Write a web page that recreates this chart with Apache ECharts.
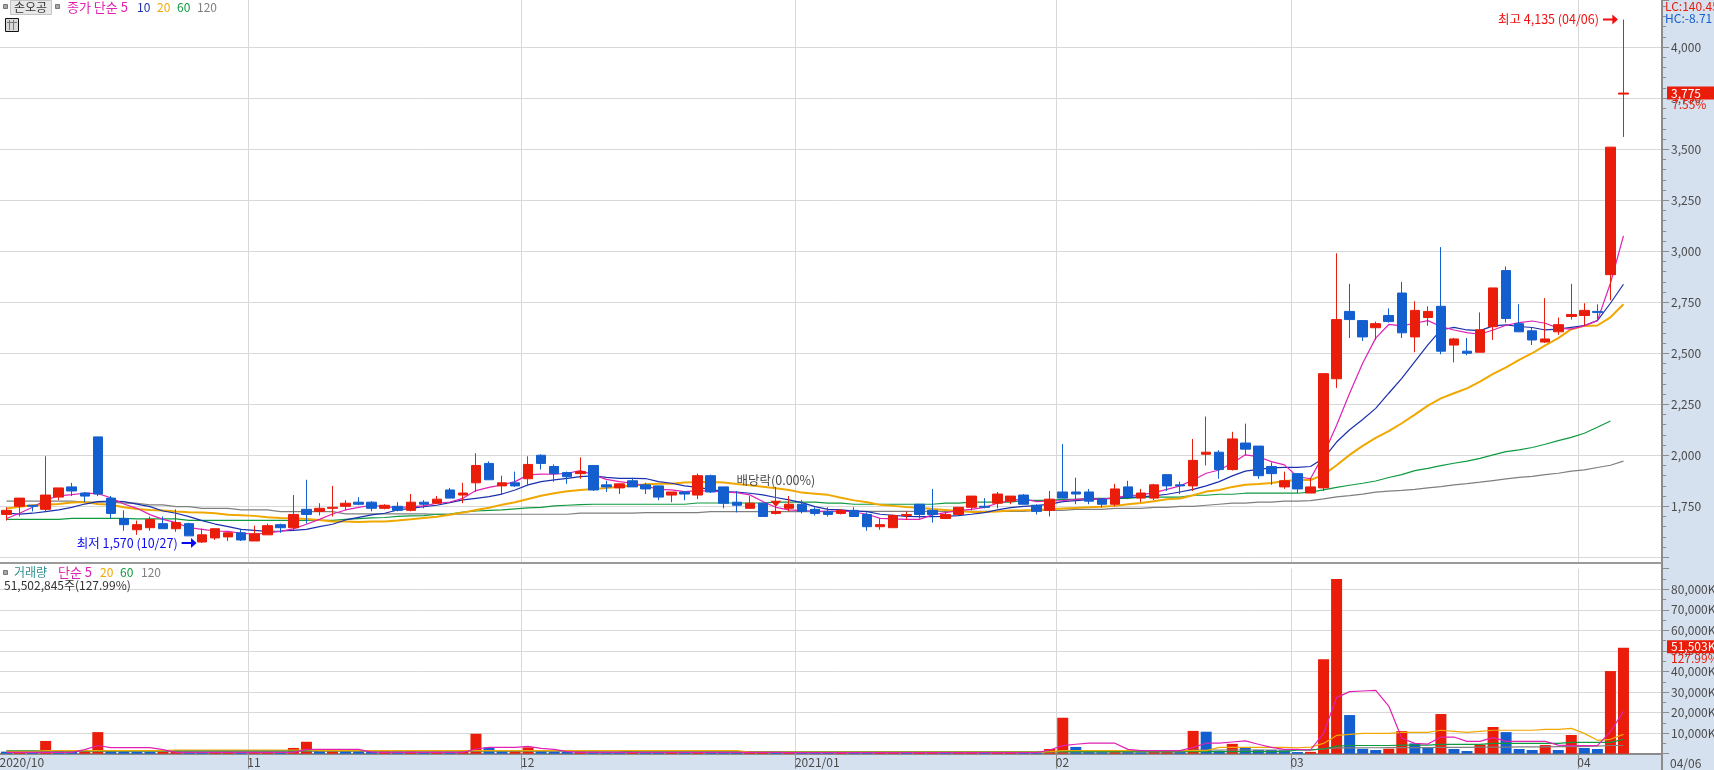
<!DOCTYPE html>
<html>
<head>
<meta charset="utf-8">
<title>손오공 일봉</title>
<script src="https://cdn.jsdelivr.net/npm/echarts@6/dist/echarts.min.js"></script>
<style>
  html, body { margin: 0; padding: 0; background: #fff; }
  #chart { width: 1714px; height: 770px; }
</style>
</head>
<body>
<div id="chart"></div>
<script>
// [open, close, low, high]
const candles = [
  [1710,1730,1680,1745],[1750,1790,1700,1790],[1755,1750,1725,1755],[1735,1805,1725,1995],[1795,1840,1780,1840],
  [1845,1825,1800,1865],[1815,1800,1770,1820],[2090,1810,1800,2090],[1790,1715,1690,1800],[1690,1660,1630,1730],
  [1635,1660,1610,1680],[1645,1685,1630,1700],[1665,1640,1640,1700],[1640,1670,1625,1735],[1665,1605,1605,1670],
  [1575,1610,1570,1640],[1595,1640,1585,1640],[1600,1620,1580,1625],[1620,1585,1580,1635],[1580,1615,1580,1655],
  [1610,1655,1610,1665],[1660,1645,1620,1665],[1645,1710,1635,1805],[1735,1710,1665,1880],[1725,1740,1705,1765],
  [1740,1745,1700,1850],[1750,1765,1730,1780],[1770,1760,1755,1795],[1770,1740,1725,1775],[1740,1755,1735,1760],
  [1750,1730,1725,1770],[1730,1770,1725,1810],[1770,1760,1740,1780],[1765,1785,1760,1800],[1830,1790,1790,1840],
  [1805,1815,1765,1865],[1865,1950,1820,2010],[1960,1880,1880,1970],[1850,1865,1810,1900],[1865,1850,1845,1920],
  [1885,1955,1855,1995],[2000,1960,1930,2005],[1945,1910,1870,1955],[1915,1895,1860,1920],[1910,1920,1885,1990],
  [1950,1830,1825,1950],[1855,1845,1820,1875],[1840,1860,1810,1860],[1875,1845,1845,1890],[1855,1835,1810,1865],
  [1850,1795,1780,1850],[1805,1820,1770,1820],[1820,1810,1780,1825],[1805,1900,1785,1910],[1900,1820,1815,1905],
  [1845,1765,1740,1845],[1770,1755,1720,1825],[1740,1765,1740,1800],[1765,1700,1700,1765],[1715,1725,1710,1845],
  [1740,1760,1725,1800],[1760,1725,1715,1780],[1735,1715,1705,1745],[1725,1710,1700,1745],[1715,1730,1710,1735],
  [1730,1700,1700,1745],[1710,1650,1630,1720],[1650,1660,1635,1690],[1645,1705,1645,1710],[1705,1710,1685,1725],
  [1760,1710,1690,1760],[1730,1710,1670,1835],[1690,1710,1690,1725],[1710,1745,1710,1745],[1745,1800,1730,1800],
  [1750,1745,1740,1790],[1765,1810,1740,1820],[1775,1800,1760,1800],[1805,1760,1760,1810],[1755,1725,1710,1760],
  [1730,1785,1700,1825],[1820,1790,1790,2055],[1820,1810,1760,1890],[1820,1775,1760,1835],[1785,1760,1745,1790],
  [1760,1835,1750,1860],[1845,1795,1785,1875],[1790,1815,1770,1835],[1790,1855,1780,1860],[1905,1850,1825,1905],
  [1855,1850,1810,1870],[1850,1975,1825,2080],[2005,2015,1950,2190],[2015,1930,1885,2025],[1930,2080,1925,2115],
  [2060,2030,2000,2155],[2045,1900,1885,2045],[1945,1910,1855,1965],[1845,1875,1835,1920],[1910,1835,1815,1910],
  [1815,1845,1815,1890],[1840,2400,1825,2400],[2375,2665,2330,2990],[2705,2665,2575,2840],[2660,2580,2560,2660],
  [2625,2645,2565,2655],[2685,2655,2650,2720],[2795,2600,2575,2850],[2580,2710,2505,2755],[2675,2705,2635,2730],
  [2730,2510,2495,3020],[2540,2570,2455,2575],[2510,2500,2490,2575],[2505,2615,2505,2700],[2630,2820,2565,2820],
  [2905,2670,2650,2925],[2645,2605,2605,2740],[2610,2565,2540,2625],[2555,2570,2550,2770],[2605,2640,2590,2675],
  [2680,2690,2665,2840],[2685,2710,2635,2745],[2705,2700,2665,2740],[2885,3510,2760,3510],[3770,3775,3560,4135]
];

const ma5 = [
  1690,1716,1745,1781,1801,1807,1814,1812,1792,1761,1740,1709,1686,1670,1645,1637,1629,1627,1618,1613,
  1619,1627,1639,1662,1686,1712,1732,1745,1755,1748,1743,1748,1752,
  1765,1771,1789,1827,1843,1855,1871,1904,1908,1907,1912,1925,1904,1882,1871,1863,1850,1833,1830,1822,1827,1825,1819,1817,1806,1773,1745,1732,1729,1727,1725,1727,1722,
  1711,1691,1688,1686,1686,1708,1719,1729,1735,1745,1765,1778,1786,1773,1776,1778,1784,1788,1784,1794,1801,1806,1817,1833,1850,1879,1912,1928,1961,2002,1993,1969,1953,
  1895,1885,2003,2147,2304,2451,2574,2641,2634,2647,2660,2631,2614,2601,2593,2614,2637,2650,2658,2647,2623,2618,2634,2660,2843,3075
];
const ma10 = [
  1716,1712,1716,1724,1732,1745,1761,1773,1776,1773,1761,1748,1727,1716,1699,1680,1663,1650,1637,1632,
  1627,1629,1632,1637,1650,1662,1683,1696,1708,1716,1732,1740,1748,
  1755,1768,1781,1789,1797,1810,1830,1855,1871,1879,1887,1895,1899,1892,1887,1887,1886,1871,1863,1850,1843,1833,1822,1819,1814,1806,1793,1781,1768,1748,1735,1732,1727,
  1724,1711,1706,1701,1699,1699,1701,1704,1711,1719,1732,1743,1750,1753,1761,1773,1778,1783,1786,1789,1794,1796,1801,1809,1820,1833,1850,1871,1899,1922,1931,1938,1941,
  1941,1945,1985,2065,2125,2175,2230,2304,2377,2459,2541,2614,2627,2614,2611,2634,2639,2631,2626,2614,2618,2627,2636,2660,2745,2838
];
const ma20 = [
  1739,1748,1755,1758,1761,1768,1771,1761,1757,1745,1737,1732,1729,1724,1721,1719,1716,1709,1706,1703,
  1696,1693,1691,1688,1683,1676,1675,1673,1675,1676,1680,1686,1693,
  1699,1709,1719,1732,1743,1758,1770,1786,1802,1814,1824,1830,1835,1840,1846,1851,1858,1861,1861,1866,1869,1869,1866,1859,1853,1846,1838,1830,1817,1812,1806,1792,1779,
  1770,1757,1752,1747,1743,1737,1732,1727,1722,1722,1724,1729,1730,1732,1735,1739,1742,1745,1748,1752,1760,1766,1775,1784,1788,1804,1822,1830,1845,1855,1859,1864,1874,
  1879,1879,1904,1951,2002,2046,2085,2118,2157,2199,2243,2279,2304,2328,2361,2399,2431,2467,2500,2538,2574,2618,2634,2636,2676,2740
];
const ma60 = [
  1686,1686,1686,1686,1686,1691,1691,1691,1691,1691,1688,1688,1688,1688,1681,1681,1681,1681,1681,1681,
  1681,1681,1681,1681,1681,1681,1686,1690,1693,1695,1701,1703,1704,
  1711,1712,1721,1727,1730,1732,1737,1742,1745,1752,1755,1758,1760,1760,1760,1760,1760,1760,1760,1760,1766,1766,1766,1766,1766,1766,1770,1770,1770,1770,1765,1765,
  1760,1760,1760,1760,1760,1760,1760,1765,1765,1770,1770,1770,1770,1779,1779,1779,1784,1784,1789,1789,1789,1789,1795,1795,1795,1795,1804,1804,1809,1809,1814,1814,1814,
  1814,1814,1819,1830,1843,1853,1863,1874,1891,1905,1925,1936,1949,1961,1971,1985,2002,2018,2026,2038,2054,2072,2088,2108,2137,2168
];
const ma120 = [
  1775,1775,1775,1775,1775,1775,1770,1770,1770,1765,1765,1757,1757,1748,1748,1740,1740,1740,1732,1732,
  1732,1724,1724,1724,1724,1724,1713,1713,1713,1713,1713,1713,1713,
  1711,1711,1711,1711,1711,1711,1711,1711,1711,1711,1711,1716,1716,1716,1716,1716,1719,1719,1719,1719,1719,1724,1724,1724,1724,1724,1724,1724,1724,1724,1724,1724,1727,
  1725,1725,1725,1725,1725,1725,1725,1725,1725,1725,1725,1725,1725,1730,1730,1730,1735,1735,1735,1740,1740,1740,1745,1745,1750,1750,1755,1760,1765,1765,1770,1770,1775,
  1775,1778,1786,1796,1802,1810,1819,1824,1828,1833,1840,1846,1855,1861,1868,1876,1884,1892,1897,1905,1912,1922,1928,1940,1951,1971
];

// 거래량, 단위는 천주(K)
const volumes = [
  1000,1200,900,6200,1500,1100,1300,10500,1300,1200,
  1000,900,1000,1200,1000,900,1000,1100,900,1000,
  1100,1000,2800,5800,1600,1800,1500,1300,1200,1300,
  1100,1200,1000,1100,1000,1200,9700,3000,1300,1400,
  3100,1500,1100,1000,1200,1100,1000,900,1000,700,
  600,700,600,800,700,600,500,600,700,500,
  600,500,450,400,450,400,350,400,500,450,
  500,550,500,550,600,500,550,600,500,450,
  2300,17500,3300,1000,800,900,800,700,900,1000,
  800,11100,10700,1500,4800,2800,1900,1800,1700,800,
  900,46000,85000,18800,2400,1800,2400,11000,5000,3200,
  19300,2300,1300,4400,13000,10500,2300,1800,4200,1800,
  9100,2800,2300,40200,51503
];
const volMa5 = [
  650,650,650,650,650,650,2000,4000,3000,3000,
  3000,3000,2000,650,650,650,650,650,650,650,
  650,650,650,2100,2100,2100,2100,2100,800,650,
  650,650,650,650,650,650,2300,3100,3100,3100,
  3600,2600,2100,1000,650,650,650,650,650,650,
  600,600,600,600,600,600,600,600,600,600,
  550,550,550,550,550,550,550,550,550,550,
  550,550,550,550,550,550,550,550,550,550,
  1800,3900,4600,5100,5100,5100,2100,1500,1500,1500,
  1500,3100,5100,5100,5700,6200,4600,3100,2100,2100,
  1800,9900,27300,30200,30500,30800,23200,7500,5000,4700,
  8100,8100,6000,6000,7800,6000,6000,6000,6000,4200,
  3900,3900,3900,10700,20600
];
const volMa20 = [
  1200,1200,1200,1500,1500,1500,1500,1500,1500,1500,
  1500,1500,1500,1800,1800,1800,1800,1800,1800,1800,
  1800,1800,1800,1800,1500,1500,1500,1500,1500,1500,
  1500,1500,1500,1500,1500,1500,1500,1500,1500,1500,
  1500,1500,1500,1500,1500,1500,1500,1500,1500,1500,
  1500,1500,1500,1500,1500,1500,1500,800,800,800,
  800,800,800,800,800,800,800,800,800,800,
  800,800,800,800,800,800,800,800,800,800,
  1000,1500,1500,1500,1500,1500,1500,1500,1500,1500,
  1500,1500,1500,3100,3100,3100,3100,3100,3100,2900,
  3200,5000,8900,9400,9900,9900,9900,10400,10400,10400,
  11400,10900,10400,10900,11400,11400,11400,11400,11800,11800,
  12300,9900,6500,7000,9400
];
const volMa60 = [
  1400,1400,1400,1400,1400,1400,1400,1400,1400,1400,
  1400,1400,1400,1400,1400,1400,1400,1400,1400,1400,
  1400,1400,1400,1500,1500,1500,1500,1500,1500,1500,
  1500,1500,1500,1500,1500,1500,1500,1500,1500,1500,
  1500,1500,1500,1500,1500,1500,1500,1500,900,900,
  900,900,900,900,900,900,900,900,900,900,
  900,900,900,900,900,900,900,900,900,900,
  900,900,900,900,900,900,900,900,900,900,
  1000,1000,1000,1000,1000,1000,1000,1000,1000,1000,
  1000,1000,1000,1000,1000,1000,1000,1000,1000,1800,
  1800,2300,3700,4000,4000,4000,4000,4200,4200,4200,
  4500,4500,4500,4500,5000,5000,5000,5000,5000,5000,
  5500,5500,5500,5500,7000
];
const volMa120 = [
  1300,1300,1300,1300,1300,1300,1300,1300,1300,1300,
  1300,1300,1300,1300,1300,1300,1300,1300,1300,1300,
  1300,1300,1300,1300,1300,1300,1300,1300,1300,1300,
  1300,1300,1300,1300,1300,1300,1300,1300,1300,1300,
  1300,1300,1300,1300,1300,1300,1300,1300,800,800,
  800,800,800,800,800,800,800,800,800,800,
  800,800,800,800,800,800,800,800,800,800,
  800,800,800,800,800,800,800,800,800,800,
  900,900,900,900,900,900,900,900,900,900,
  900,1800,1800,1800,1800,1800,1800,1800,1800,1800,
  1800,2300,2800,2800,2900,2900,3000,3000,3000,3000,
  3100,3100,3100,3200,3200,3200,3300,3300,3300,3400,
  3400,3500,3700,4000,4000
];

// 월 구분: 봉 인덱스 → 축 라벨
const monthIndex = [0, 19, 40, 61, 81, 99, 121];
const monthLabels = ['2020/10', '11', '12', '2021/01', '02', '03', '04'];

const RED = '#ea1c0a';
const BLUE = '#135fcf';
const GRID = '#d8d8d8';
const AXIS = '#8c8c8c';
const TEXT = '#4a4a4a';
const STRIP = '#d6e1ef';
const C_MA5 = '#e021b4';
const C_MA10 = '#1a30ad';
const C_MA20 = '#f0a800';
const C_MA60 = '#0f9a40';
const C_MA120 = '#7f7f7f';
const FONT = '"Noto Sans CJK KR", "Liberation Sans", sans-serif';

// 오른쪽 눈금 띠 아래까지 포함: 밴드 13.04px가 되도록 128칸
const categories = Array.from({ length: 128 }, (_, i) => String(i));
const isMonthLine = (i) => i !== 0 && monthIndex.includes(i);
const comma = (v) => String(v).replace(/\B(?=(\d{3})+(?!\d))/g, ',');

function maLine(name, data, color, width, xi, yi, z) {
  return {
    name, type: 'line', data, xAxisIndex: xi, yAxisIndex: yi, z,
    symbol: 'none', smooth: false, silent: true,
    lineStyle: { color, width },
  };
}

function arrowMark(idx, price, color, text) {
  return {
    coord: [idx, price],
    symbol: 'path://M0,4 H10 V0 L16,5 L10,10 V6 H0 Z',
    symbolSize: [15, 10],
    symbolOffset: [-13, 0],
    itemStyle: { color },
    label: {
      show: true, position: 'left', distance: 4, formatter: text,
      color, fontSize: 12.5, fontFamily: FONT,
    },
  };
}

const chart = echarts.init(document.getElementById('chart'), null, { renderer: 'canvas' });

const option = {
  animation: false,
  backgroundColor: '#fff',
  grid: [
    { left: 0, top: 0, width: 1669.1, height: 557.3, outerBoundsMode: 'none' },
    { left: 0, top: 568.7, width: 1669.1, height: 185, outerBoundsMode: 'none' },
  ],
  xAxis: [
    {
      type: 'category', gridIndex: 0, data: categories, boundaryGap: true,
      axisLine: { show: false },
      axisLabel: { show: false },
      // 1,500 선 아래로 패널 끝까지 세로선 연장
      axisTick: { show: true, length: 6, interval: isMonthLine, lineStyle: { color: GRID, width: 1 } },
      splitLine: { show: true, interval: isMonthLine, lineStyle: { color: GRID, width: 1 } },
    },
    {
      type: 'category', gridIndex: 1, data: categories, boundaryGap: true,
      axisLine: { show: true, lineStyle: { color: AXIS, width: 2 } },
      axisTick: { show: true, length: 15, interval: isMonthLine, lineStyle: { color: AXIS, width: 1 } },
      axisLabel: {
        show: true, interval: (i) => monthIndex.includes(i),
        formatter: (v, i) => monthLabels[monthIndex.indexOf(i)] || '',
        align: 'left', margin: 3, padding: [0, 0, 0, -7],
        color: TEXT, fontSize: 12, fontFamily: FONT,
      },
      splitLine: { show: true, interval: isMonthLine, lineStyle: { color: GRID, width: 1 } },
    },
  ],
  yAxis: [
    {
      type: 'value', gridIndex: 0, position: 'right', min: 1500, max: 4231, interval: 250,
      axisLine: { show: false }, axisTick: { show: false }, axisLabel: { show: false },
      splitLine: { show: true, showMaxLine: false, lineStyle: { color: GRID, width: 1 } },
    },
    {
      type: 'value', gridIndex: 0, position: 'right', offset: -7, min: 1500, max: 4231, interval: 250, z: 5,
      axisLine: { show: false },
      axisTick: { show: true, length: 7, lineStyle: { color: AXIS } },
      minorTick: { show: true, splitNumber: 5, length: 4, lineStyle: { color: AXIS } },
      axisLabel: {
        margin: 9, showMinLabel: false, showMaxLabel: false,
        formatter: (v) => comma(v), color: TEXT, fontSize: 12, fontFamily: FONT,
      },
      splitLine: { show: false },
    },
    {
      type: 'value', gridIndex: 1, position: 'right', min: 0, max: 90000, interval: 10000,
      axisLine: { show: false }, axisTick: { show: false }, axisLabel: { show: false },
      splitLine: { show: true, showMaxLine: false, showMinLine: false, lineStyle: { color: GRID, width: 1 } },
    },
    {
      type: 'value', gridIndex: 1, position: 'right', offset: -7, min: 0, max: 90000, interval: 10000, z: 5,
      axisLine: { show: false },
      axisTick: { show: true, length: 7, lineStyle: { color: AXIS } },
      minorTick: { show: true, splitNumber: 2, length: 4, lineStyle: { color: AXIS } },
      axisLabel: {
        margin: 9, showMinLabel: false, showMaxLabel: false,
        formatter: (v) => comma(v) + 'K', color: TEXT, fontSize: 12, fontFamily: FONT,
      },
      splitLine: { show: false },
    },
  ],
  series: [
    maLine('120', ma120, C_MA120, 1.2, 0, 0, 1),
    maLine('60', ma60, C_MA60, 1.2, 0, 0, 1),
    maLine('20', ma20, C_MA20, 2, 0, 0, 1),
    maLine('10', ma10, C_MA10, 1.2, 0, 0, 1),
    maLine('5', ma5, C_MA5, 1.2, 0, 0, 1),
    {
      name: '손오공', type: 'candlestick', data: candles, xAxisIndex: 0, yAxisIndex: 0, z: 2,
      barWidth: 10, silent: true,
      itemStyle: { color: RED, color0: BLUE, borderColor: RED, borderColor0: BLUE, borderWidth: 1 },
      markPoint: {
        silent: true,
        data: [
          arrowMark(124, 4135, '#f01010', '최고 4,135 (04/06)'),
          arrowMark(15, 1570, '#0a0af0', '최저 1,570 (10/27)'),
          {
            coord: [59, 1763], symbol: 'triangle', symbolRotate: 180, symbolSize: [11, 6],
            itemStyle: { color: RED },
            label: {
              show: true, position: 'top', distance: 14, formatter: '배당락(0.00%)',
              color: TEXT, fontSize: 12.5, fontFamily: FONT,
            },
          },
        ],
      },
    },
    {
      name: '거래량', type: 'bar', xAxisIndex: 1, yAxisIndex: 2, z: 2, barWidth: 11, silent: true,
      data: volumes.map((v, i) => ({
        value: v,
        itemStyle: { color: i > 0 && v > volumes[i - 1] ? RED : BLUE },
      })),
    },
    maLine('v120', volMa120, C_MA120, 1.2, 1, 2, 3),
    maLine('v60', volMa60, C_MA60, 1.2, 1, 2, 3),
    maLine('v20', volMa20, C_MA20, 1.2, 1, 2, 3),
    maLine('v5', volMa5, C_MA5, 1.2, 1, 2, 3),
  ],
};
chart.setOption(option);

function txt(x, y, text, fill, size) {
  return {
    type: 'text', z: 6, silent: true, x, y,
    style: { text, fill, font: (size || 12) + 'px ' + FONT, textVerticalAlign: 'middle' },
  };
}
function box(x, y, w, h, fill, stroke, z) {
  return {
    type: 'rect', z: z === undefined ? 6 : z, silent: true,
    shape: { x, y, width: w, height: h },
    style: { fill, stroke: stroke || null, lineWidth: stroke ? 1 : 0 },
  };
}
function vline(x, y1, y2, color, w, z) {
  return {
    type: 'line', z: z === undefined ? 6 : z, silent: true,
    shape: { x1: x, y1, x2: x, y2 },
    style: { stroke: color, lineWidth: w },
  };
}
function hline(y, x1, x2, color, w, z) {
  return {
    type: 'line', z: z === undefined ? 6 : z, silent: true,
    shape: { x1, y1: y, x2, y2: y },
    style: { stroke: color, lineWidth: w },
  };
}

// 마지막 값 태그는 축 스케일로 위치를 구함
const lastClose = candles[candles.length - 1][1];
const lastVol = volumes[volumes.length - 1];
const closeY = chart.convertToPixel({ yAxisIndex: 0 }, lastClose);
const volY = chart.convertToPixel({ yAxisIndex: 2 }, lastVol);

chart.setOption({
  graphic: { elements: [
    // 아래 날짜 띠, 오른쪽 눈금 띠
    box(0, 755, 1714, 15, STRIP, null, -1),
    box(1662, 0, 52, 770, STRIP, null, 3),
    vline(1662, 0, 770, AXIS, 2, 4),
    hline(563, 0, 1662, '#9a9a9a', 2, 4),

    // 상단 범례
    box(3.5, 4.5, 4, 4, '#a8a8a8', '#777'),
    box(10.5, 0.5, 41, 14, '#e8e8e8', '#c4c4c4'),
    txt(14, 7.5, '손오공', '#333'),
    box(55.5, 4.5, 4, 4, '#a8a8a8', '#777'),
    txt(67, 7.5, '종가 단순 5', C_MA5, 13),
    txt(137, 7.5, '10', C_MA10),
    txt(157, 7.5, '20', C_MA20),
    txt(177, 7.5, '60', C_MA60),
    txt(197, 7.5, '120', C_MA120),
    box(5.5, 18.5, 13, 13, '#d8d8d8', '#111'),
    vline(9.5, 20, 30, '#777', 1),
    vline(13.5, 20, 30, '#777', 1),
    hline(22.5, 7, 17, '#777', 1),

    // 거래량 범례
    box(3.5, 570.5, 4, 4, '#a8a8a8', '#777'),
    txt(14, 572.5, '거래량', '#2f9090'),
    txt(58, 572.5, '단순 5', C_MA5, 13),
    txt(100, 572.5, '20', C_MA20),
    txt(120, 572.5, '60', C_MA60),
    txt(141, 572.5, '120', C_MA120),
    txt(4, 585.5, '51,502,845주(127.99%)', '#333'),

    // 오른쪽 위 정보
    txt(1665, 6, 'LC:140.45', RED),
    txt(1665, 18, 'HC:-8.71', BLUE),

    // 현재가 태그
    box(1667, closeY - 6.5, 47, 13, RED),
    txt(1671, closeY, comma(lastClose), '#fff'),
    txt(1672, closeY + 11.5, '7.55%', RED),
    box(1667, volY - 7.5, 47, 13, RED),
    txt(1671, volY - 1, comma(Math.round(lastVol)) + 'K', '#fff'),
    txt(1671, volY + 10.5, '127.99%', RED),

    txt(1670, 763, '04/06', TEXT),
  ] },
});
</script>
</body>
</html>
